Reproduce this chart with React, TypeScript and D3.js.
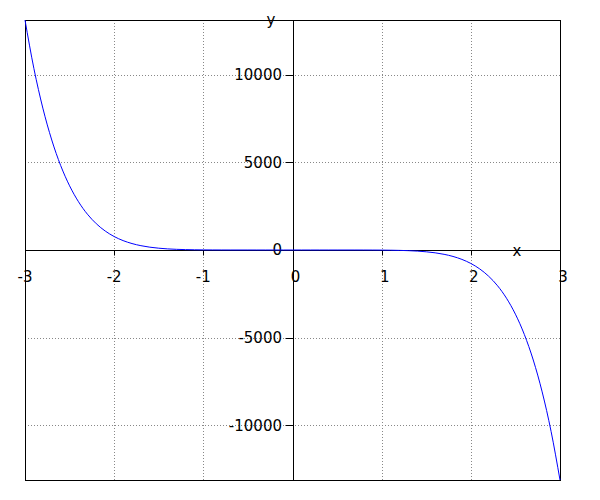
import React, { useEffect, useRef } from "react";
import * as d3 from "d3";

const xValues: number[] = [
  -3.0, -2.9, -2.8, -2.7, -2.6, -2.5, -2.4, -2.3, -2.2, -2.1,
  -2.0, -1.9, -1.8, -1.7, -1.6, -1.5, -1.4, -1.3, -1.2, -1.1,
  -1.0, -0.9, -0.8, -0.7, -0.6, -0.5, -0.4, -0.3, -0.2, -0.1,
  0.0, 0.1, 0.2, 0.3, 0.4, 0.5, 0.6, 0.7, 0.8, 0.9,
  1.0, 1.1, 1.2, 1.3, 1.4, 1.5, 1.6, 1.7, 1.8, 1.9,
  2.0, 2.1, 2.2, 2.3, 2.4, 2.5, 2.6, 2.7, 2.8, 2.9, 3.0,
];
const yValues: number[] = [
  13122, 10350, 8096, 6276, 4819, 3662, 2752, 2043, 1497, 1081,
  768, 536.3, 367.3, 246.2, 161.1, 102.5, 63.2, 37.6, 21.5, 11.7,
  6, 2.87, 1.26, 0.49, 0.17, 0.05, 0.01, 0.001, 0, 0,
  0, 0, 0, -0.001, -0.01, -0.05, -0.17, -0.49, -1.26, -2.87,
  -6, -11.7, -21.5, -37.6, -63.2, -102.5, -161.1, -246.2, -367.3, -536.3,
  -768, -1081, -1497, -2043, -2752, -3662, -4819, -6276, -8096, -10350, -13122,
];
const xTicks: number[] = [-3, -2, -1, 0, 1, 2, 3];
const yTicks: number[] = [-10000, -5000, 0, 5000, 10000];
const xGrid: number[] = [-2, -1, 1, 2];
const yGrid: number[] = [-10000, -5000, 5000, 10000];
const xDomain: [number, number] = [-3, 3];
const yDomain: [number, number] = [-13122, 13122];

const W = 600;
const H = 500;
const L = 25, R = 560, T = 20, B = 480;
const FONT = "DejaVu Sans, sans-serif";

export default function App() {
  const ref = useRef<SVGSVGElement | null>(null);

  useEffect(() => {
    const svg = d3.select(ref.current);
    svg.selectAll("*").remove();
    const x = d3.scaleLinear().domain(xDomain).range([L, R]);
    const y = d3.scaleLinear().domain(yDomain).range([B, T]);

    const g = svg.append("g");

    // grid
    g.selectAll(".gx").data(xGrid).enter().append("line")
      .attr("x1", (d) => Math.round(x(d)) + 0.5).attr("x2", (d) => Math.round(x(d)) + 0.5)
      .attr("y1", T).attr("y2", B)
      .attr("stroke", "#888").attr("stroke-width", 1).attr("stroke-dasharray", "1,2");
    g.selectAll(".gy").data(yGrid).enter().append("line")
      .attr("y1", (d) => Math.round(y(d)) + 0.5).attr("y2", (d) => Math.round(y(d)) + 0.5)
      .attr("x1", L).attr("x2", R)
      .attr("stroke", "#888").attr("stroke-width", 1).attr("stroke-dasharray", "1,2");

    // frame
    g.append("rect").attr("x", L + 0.5).attr("y", T + 0.5).attr("width", R - L).attr("height", B - T)
      .attr("fill", "none").attr("stroke", "#000").attr("stroke-width", 1);

    const x0 = Math.round(x(0)) + 0.5;
    const y0 = Math.round(y(0)) + 0.5;

    // axes lines
    g.append("line").attr("x1", L).attr("x2", R).attr("y1", y0).attr("y2", y0)
      .attr("stroke", "#000").attr("stroke-width", 1);
    g.append("line").attr("x1", x0).attr("x2", x0).attr("y1", T).attr("y2", B)
      .attr("stroke", "#000").attr("stroke-width", 1);

    // x ticks
    g.selectAll(".tx").data(xTicks).enter().append("line")
      .attr("x1", (d) => Math.round(x(d)) + 0.5).attr("x2", (d) => Math.round(x(d)) + 0.5)
      .attr("y1", y0).attr("y2", y0 + 5)
      .attr("stroke", "#000").attr("stroke-width", 1);
    g.selectAll(".lx").data(xTicks).enter().append("text")
      .attr("x", (d) => x(d) + (d >= 0 ? 3 : 0)).attr("y", 282)
      .attr("text-anchor", "middle")
      .attr("font-family", FONT).attr("font-size", 15).attr("fill", "#000")
      .text((d) => String(d));

    // y ticks
    g.selectAll(".ty").data(yTicks).enter().append("line")
      .attr("y1", (d) => Math.round(y(d)) + 0.5).attr("y2", (d) => Math.round(y(d)) + 0.5)
      .attr("x1", x0 - 8).attr("x2", x0)
      .attr("stroke", "#000").attr("stroke-width", 1);
    g.selectAll(".ly").data(yTicks).enter().append("text")
      .attr("x", 282).attr("y", (d) => y(d))
      .attr("dy", "0.36em")
      .attr("text-anchor", "end")
      .attr("font-family", FONT).attr("font-size", 15).attr("fill", "#000")
      .text((d) => String(d));

    // axis labels
    g.append("text").attr("x", 517).attr("y", 256).attr("text-anchor", "middle")
      .attr("font-family", FONT).attr("font-size", 15).attr("fill", "#000").text("x");
    g.append("text").attr("x", 271).attr("y", 25).attr("text-anchor", "middle")
      .attr("font-family", FONT).attr("font-size", 15).attr("fill", "#000").text("y");

    // curve
    const pts = xValues.map((xv, i) => [xv, yValues[i]] as [number, number]);
    const line = d3.line<[number, number]>()
      .x((d) => x(d[0])).y((d) => y(d[1]))
      .curve(d3.curveMonotoneX);
    g.append("path").datum(pts).attr("d", line)
      .attr("fill", "none").attr("stroke", "#0000ff").attr("stroke-width", 1);
  }, []);

  return (
    <svg
      ref={ref}
      width={W}
      height={H}
      style={{ position: "absolute", left: 0, top: 0, display: "block", background: "#fff" }}
    />
  );
}
